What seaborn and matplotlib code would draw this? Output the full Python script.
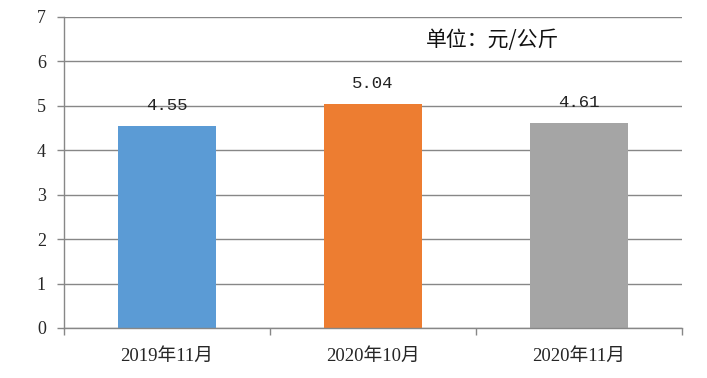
import matplotlib
matplotlib.use("Agg")
import matplotlib.pyplot as plt
import seaborn as sns
import pandas as pd

# 数据
months = ["2019年11月", "2020年10月", "2020年11月"]
prices = [4.55, 5.04, 4.61]
bar_colors = ["#5B9BD5", "#ED7D31", "#A5A5A5"]

df = pd.DataFrame({"month": months, "price": prices})

sns.set_style("white")
plt.rcParams["font.family"] = ["Liberation Serif", "Noto Sans CJK SC", "DejaVu Sans"]

fig = plt.figure(figsize=(7.07, 3.78), dpi=100)
ax = fig.add_axes([64 / 707, 1 - 328 / 378, 618 / 707, 311 / 378])

sns.barplot(data=df, x="month", y="price", hue="month", palette=bar_colors,
            legend=False, width=0.475, saturation=1, linewidth=0, ax=ax, zorder=2)

ax.set_xlim(-0.5, 2.5)
ax.set_ylim(0, 7)
ax.set_yticks(range(0, 8))
ax.yaxis.grid(True, color="#878787", linewidth=1.0, zorder=0)
ax.set_axisbelow(True)
for side in ["top", "right"]:
    ax.spines[side].set_visible(False)
for side in ["left", "bottom"]:
    ax.spines[side].set_color("#878787")
    ax.spines[side].set_linewidth(1.0)

# x 轴刻度放在类别之间
ax.set_xticks([0, 1, 2])
ax.set_xticklabels(months, fontsize=13.5, family=["Liberation Serif", "Noto Sans CJK SC"])
ax.set_xticks([-0.5, 0.5, 1.5, 2.5], minor=True)
ax.tick_params(axis="x", which="major", bottom=False, length=0, pad=14)
ax.tick_params(axis="x", which="minor", bottom=True, length=5, color="#878787", width=1.0)
ax.tick_params(axis="y", left=True, length=5, color="#878787", width=1.0, pad=8, labelsize=13)
ax.set_xlabel("")
ax.set_ylabel("")

for i, v in enumerate(prices):
    ax.text(i, v + 0.46, f"{v:.2f}", ha="center", va="center", fontsize=12.5,
            family="Liberation Mono", color="#222222", zorder=3)

ax.text(0.693, 0.925, "单位：元/公斤", transform=ax.transAxes, ha="center", va="center",
        fontsize=15, family=["Noto Sans CJK SC", "DejaVu Sans"], color="#111111")

fig.savefig("out.png", dpi=100)
